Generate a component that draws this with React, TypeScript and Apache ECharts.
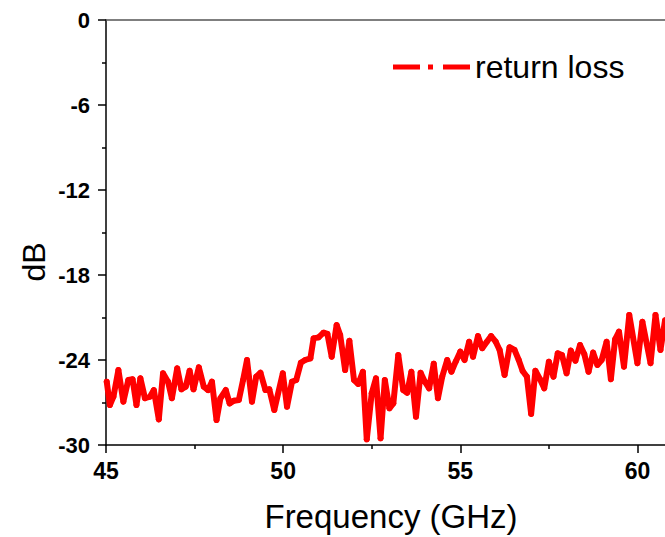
import React, { useEffect, useRef } from "react";
import * as echarts from "echarts";

const seriesName = "return loss";
const freqGHz = [
  45.02, 45.11, 45.21, 45.35, 45.49, 45.63, 45.75, 45.86, 45.97, 46.1, 46.24, 46.35, 46.49, 46.61, 46.75, 46.86,
  47.01, 47.13, 47.25, 47.36, 47.47, 47.62, 47.76, 47.88, 47.99, 48.12, 48.23, 48.38, 48.49, 48.61, 48.75, 48.87,
  48.98, 49.12, 49.24, 49.36, 49.5, 49.61, 49.75, 49.99, 50.11, 50.25, 50.37, 50.5, 50.62, 50.77, 50.86, 51.0,
  51.14, 51.25, 51.37, 51.51, 51.61, 51.75, 51.87, 52.0, 52.12, 52.25, 52.36, 52.5, 52.62, 52.75, 52.87, 53.0,
  53.11, 53.25, 53.39, 53.5, 53.62, 53.75, 53.88, 54.0, 54.12, 54.25, 54.37, 54.49, 54.63, 54.75, 54.87, 55.0,
  55.12, 55.25, 55.36, 55.5, 55.62, 55.75, 55.87, 56.0, 56.11, 56.25, 56.39, 56.53, 56.65, 56.76, 56.88, 57.0,
  57.12, 57.25, 57.37, 57.5, 57.63, 57.75, 57.87, 58.0, 58.12, 58.25, 58.38, 58.5, 58.62, 58.75, 58.87, 58.99,
  59.13, 59.25, 59.37, 59.48, 59.62, 59.77, 60.0, 60.14, 60.37, 60.51, 60.65, 60.78,
];
const returnLossDb = [
  -25.53, -27.18, -26.59, -24.71, -26.94, -25.41, -25.36, -27.18, -25.29, -26.7, -26.59, -26.12, -28.19, -24.94, -25.53, -26.7,
  -24.59, -26.07, -25.88, -24.76, -26.07, -24.52, -25.88, -26.12, -25.53, -28.24, -26.7, -26.12, -27.06, -26.87, -26.82, -25.41,
  -24.0, -26.94, -25.18, -24.9, -26.12, -26.07, -27.53, -24.94, -27.3, -25.53, -25.41, -24.19, -24.0, -23.88, -22.47, -22.4,
  -22.07, -22.16, -23.77, -21.53, -22.24, -24.71, -22.64, -25.41, -25.69, -24.83, -29.6, -26.35, -25.29, -29.53, -25.41, -27.41,
  -27.06, -23.65, -26.12, -26.31, -24.83, -28.0, -24.9, -25.53, -26.0, -24.26, -26.7, -25.18, -24.0, -24.83, -24.12, -23.41,
  -24.0, -22.71, -23.77, -22.31, -23.17, -22.71, -22.31, -22.71, -23.29, -25.06, -23.1, -23.29, -24.0, -24.78, -25.18, -27.81,
  -24.76, -25.36, -26.0, -24.12, -25.18, -23.53, -23.65, -24.94, -23.34, -24.05, -22.94, -23.58, -24.83, -23.48, -24.35, -24.0,
  -22.71, -25.36, -22.54, -22.0, -24.47, -20.82, -24.23, -21.3, -24.23, -20.82, -23.29, -21.2,
];
const xTicks = [45, 50, 55, 60];
const yTicks = [-30, -24, -18, -12, -6, 0];

const FONT = "'Liberation Sans', Arial, sans-serif";

export default function App() {
  const ref = useRef<HTMLDivElement>(null);
  useEffect(() => {
    if (!ref.current) return;
    const chart = echarts.init(ref.current, null, { renderer: "svg" });
    const data = freqGHz.map((f, i) => [f, returnLossDb[i]]);
    chart.setOption({
      animation: false,
      backgroundColor: "#ffffff",
      grid: { left: 106, top: 20, right: 0, bottom: 92, containLabel: false },
      legend: {
        data: [seriesName],
        left: 388,
        top: 46,
        icon: "path://M0,0H27V5H0Z M35,0H40V5H35Z M50,0H77V5H50Z",
        itemWidth: 77,
        itemHeight: 5,
        itemGap: 0,
        textStyle: { fontFamily: FONT, fontSize: 32, color: "#000" },
      },
      xAxis: [
        {
          type: "value",
          min: xTicks[0],
          max: 62.5,
          interval: 5,
          position: "bottom",
          axisLine: { show: true, onZero: false, lineStyle: { color: "#000", width: 1.5 } },
          axisTick: { show: true, inside: false, length: 8, lineStyle: { color: "#000", width: 1.5 } },
          minorTick: { show: true, splitNumber: 2, length: 4, lineStyle: { color: "#000", width: 1.5 } },
          splitLine: { show: false },
          axisLabel: {
            margin: 14,
            fontFamily: FONT,
            fontWeight: "bold",
            fontSize: 23,
            color: "#000",
            formatter: (v: number) => (xTicks.includes(v) ? String(v) : ""),
          },
        },
        {
          type: "value",
          min: xTicks[0],
          max: 62.5,
          position: "top",
          axisLine: { show: true, onZero: false, lineStyle: { color: "#555", width: 1.5 } },
          axisTick: { show: false },
          axisLabel: { show: false },
          splitLine: { show: false },
        },
      ],
      yAxis: {
        type: "value",
        min: yTicks[0],
        max: yTicks[yTicks.length - 1],
        interval: 6,
        axisLine: { show: true, onZero: false, lineStyle: { color: "#000", width: 1.5 } },
        axisTick: { show: true, inside: false, length: 8, lineStyle: { color: "#000", width: 1.5 } },
        minorTick: { show: true, splitNumber: 2, length: 4, lineStyle: { color: "#000", width: 1.5 } },
        splitLine: { show: false },
        axisLabel: {
          margin: 16,
          fontFamily: FONT,
          fontWeight: "bold",
          fontSize: 22,
          color: "#000",
        },
      },
      series: [
        {
          name: seriesName,
          type: "line",
          data,
          symbol: "circle",
          symbolSize: 6,
          showSymbol: true,
          itemStyle: { color: "#ff0000" },
          lineStyle: { color: "#ff0000", width: 6, join: "round", cap: "round" },
          clip: true,
        },
      ],
      graphic: [
        {
          type: "text",
          x: 34,
          y: 262,
          rotation: Math.PI / 2,
          style: {
            text: "dB",
            font: `32px ${FONT}`,
            fill: "#000",
            textAlign: "center",
            textVerticalAlign: "middle",
          },
        },
        {
          type: "text",
          x: 391,
          y: 516,
          style: {
            text: "Frequency (GHz)",
            font: `33px ${FONT}`,
            fill: "#000",
            textAlign: "center",
            textVerticalAlign: "middle",
          },
        },
      ],
    });
    return () => chart.dispose();
  }, []);
  return (
    <div
      style={{ position: "fixed", left: 0, top: 0, width: 665, height: 537, overflow: "hidden", background: "#fff" }}
    >
      <div ref={ref} style={{ position: "absolute", left: 0, top: 0, width: 729, height: 537 }} />
    </div>
  );
}
